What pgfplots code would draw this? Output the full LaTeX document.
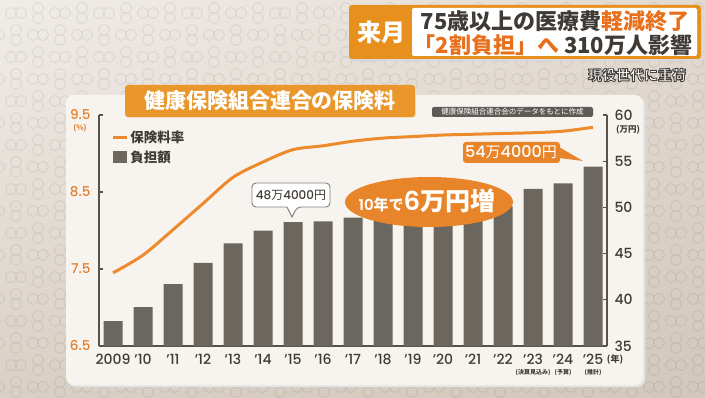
\documentclass[border=0pt]{standalone}
\usepackage{fontspec}
\usepackage{pgfplots}
\pgfplotsset{compat=1.18}
\usetikzlibrary{shadings}
\setmainfont{Noto Sans CJK JP}
\newfontfamily\numfont{Poppins}[UprightFont=*-Medium,BoldFont=*-SemiBold]
\definecolor{bgul}{HTML}{F0ECE8}
\definecolor{bgur}{HTML}{E2DAD1}
\definecolor{bgll}{HTML}{D9D0C5}
\definecolor{bglr}{HTML}{D2C7BB}
\definecolor{panel}{HTML}{F7F4EF}
\definecolor{orng}{HTML}{EC8A2C}
\definecolor{tickor}{HTML}{E2802C}
\definecolor{titleor}{HTML}{E9962A}
\definecolor{ellor}{HTML}{E8852A}
\definecolor{barc}{HTML}{6B665E}
\definecolor{axc}{HTML}{57524C}
\definecolor{txt}{HTML}{3F3A35}
\definecolor{hdror}{HTML}{E8901E}
\definecolor{hdrtxt}{HTML}{E8701C}
\definecolor{srcbox}{HTML}{5F5A55}
\newcommand{\fs}[1]{\fontsize{#1pt}{#1pt}\selectfont}
\begin{document}
\begin{tikzpicture}
\useasboundingbox (0,0) rectangle (705pt,397pt);
\shade[upper left=bgul, upper right=bgur, lower left=bgll, lower right=bglr] (0,0) rectangle (705pt,397pt);
% background ring pattern
\begin{scope}[x=1pt,y=1pt, draw=black, draw opacity=0.07, line width=0.9pt]
\foreach \j in {0,...,17} {
  \pgfmathsetmacro{\yy}{384-22*\j}
  \pgfmathsetmacro{\off}{22*mod(\j,2)}
  \foreach \i in {-1,...,16} {
    \pgfmathsetmacro{\xx}{16+44*\i+\off}
    \draw (\xx-5,\yy) circle [radius=5.5] (\xx+5,\yy) circle [radius=5.5];
    \draw (\xx+22,\yy-5) circle [radius=5.5] (\xx+22,\yy+5) circle [radius=5.5];
  }
}
\end{scope}
% panel
\fill[black!10, rounded corners=8pt] (68pt,10pt) rectangle (645pt,300pt);
\fill[panel, rounded corners=8pt] (66pt,12pt) rectangle (643pt,302pt);

% bars, right axis
\begin{axis}[at={(99pt,51pt)}, anchor=south west, scale only axis,
  width=508pt, height=231pt,
  xmin=-0.4667, xmax=16.4667, ymin=35, ymax=60,
  axis x line*=bottom, axis y line*=right,
  axis line style={-, line width=1.5pt, axc},
  tick align=inside, major tick length=4pt,
  ytick={35,40,45,50,55,60},
  ytick style={line width=1.2pt, axc},
  xtick={0,...,16}, x tick style={draw=none},
  xticklabels={2009,’10,’11,’12,’13,’14,’15,’16,’17,’18,’19,’20,’21,’22,
    {’23\\[-4pt]{\rmfamily\bfseries\fs{6}(決算見込み)}},
    {’24\\[-4pt]{\rmfamily\bfseries\fs{6}(予算)}},
    {’25\\[-4pt]{\rmfamily\bfseries\fs{6}(推計)}}},
  /pgf/number format/assume math mode=true,
  yticklabel style={font=\numfont\fs{14}, text=txt, xshift=4pt},
  xticklabel style={font=\numfont\fs{14}, text=txt, align=center, anchor=north, yshift=-1pt},
  ybar, bar width=19pt, clip=false]
\addplot[fill=barc, draw=none] coordinates {
 (0,37.7) (1,39.2) (2,41.7) (3,44.0) (4,46.1) (5,47.5) (6,48.4) (7,48.5)
 (8,48.9) (9,49.2) (10,49.4) (11,49.6) (12,49.8) (13,50.1) (14,52.0)
 (15,52.6) (16,54.4)};
\end{axis}

% line, left axis
\begin{axis}[at={(99pt,51pt)}, anchor=south west, scale only axis,
  width=508pt, height=231pt,
  xmin=-0.4667, xmax=16.4667, ymin=6.5, ymax=9.5,
  axis x line=none, axis y line*=left,
  axis line style={-, line width=1.5pt, axc},
  tick align=inside, major tick length=4pt,
  ytick={6.5,7.5,8.5,9.5},
  ytick style={line width=1.2pt, axc},
  /pgf/number format/assume math mode=true,
  /pgf/number format/fixed, /pgf/number format/precision=1,
  yticklabel style={font=\numfont\fs{13.5}, text=tickor, xshift=-5pt},
  legend style={at={(0.025,0.94)}, anchor=north west, draw=none, fill=none,
    inner sep=0pt, font=\bfseries\fs{13.5}, text=txt, row sep=4pt,
    nodes={inner sep=1.5pt}},
  legend cell align=left, clip=false]
\addplot[orng, line width=3pt, smooth,
  legend image code/.code={\draw[orng,line width=3pt] (0pt,0pt)--(14pt,0pt);}]
  coordinates {
 (0,7.45) (1,7.68) (2,8.01) (3,8.35) (4,8.69) (5,8.89) (6,9.05) (7,9.10)
 (8,9.16) (9,9.20) (10,9.22) (11,9.24) (12,9.25) (13,9.26) (14,9.27)
 (15,9.29) (16,9.34)};
\addlegendentry{保険料率}
\addlegendimage{legend image code/.code={\fill[barc] (0pt,-5.5pt) rectangle (13pt,5.5pt);}}
\addlegendentry{負担額}
\end{axis}

% axis unit labels
\node[text=tickor, font=\bfseries\fs{7.5}, inner sep=0pt] at (80pt,268.5pt) {(\%)};
\node[text=txt, font=\bfseries\fs{8.5}, inner sep=0pt] at (628pt,267.5pt) {(万円)};
\node[text=txt, font=\bfseries\fs{9}, inner sep=0pt] at (615pt,37pt) {(年)};

% title tag
\fill[white!70!titleor, rounded corners=3pt] (126pt,279pt) rectangle (416pt,311pt);
\fill[titleor, rounded corners=3pt] (125pt,280pt) rectangle (415pt,312pt);
\node[text=white, font=\bfseries\fs{21}] at (270pt,296pt) {健康保険組合連合の保険料};

% source note
\fill[srcbox, rounded corners=2pt] (432pt,280pt) rectangle (593pt,290pt);
\node[text=white, font=\fs{7.5}] at (512.5pt,285pt) {健康保険組合連合会のデータをもとに作成};

% callout 48
\filldraw[fill=white, draw=black!50, line width=0.9pt, rounded corners=4pt]
  (287pt,190pt) -- (252pt,190pt) -- (252pt,214pt) -- (330pt,214pt) -- (330pt,190pt) -- (297pt,190pt)
  [sharp corners] -- (292pt,180pt) -- cycle;
\node[text=txt, font=\fs{12}] at (291pt,202pt) {{\numfont 48}万{\numfont 4000}円};

% callout 54
\fill[ellor, rounded corners=3pt] (463pt,234pt) rectangle (560pt,255pt);
\fill[ellor] (559pt,250pt) -- (583pt,236pt) -- (559pt,239pt) -- cycle;
\node[text=white, font=\fs{15}] at (511pt,244.5pt) {{\numfont\fs{16}54}万{\numfont\fs{16}4000}円};

% ellipse
\fill[ellor] (429pt,195pt) ellipse [x radius=84pt, y radius=25pt];
\node[text=white, font=\bfseries, anchor=center] at (427pt,196pt)
  {{\numfont\fs{15}10}{\fs{15}年で}{\numfont\fs{26}6}{\fs{25}万円増}};

% header
\fill[black!15, rounded corners=3pt] (351pt,336pt) rectangle (703pt,390pt);
\fill[hdror, rounded corners=3pt] (349pt,338pt) rectangle (701pt,392pt);
\fill[white, rounded corners=2pt] (412pt,341pt) rectangle (697pt,389pt);
\node[text=white, font=\bfseries\fs{24}] at (381pt,365pt) {来月};
\node[text=txt, font=\bfseries\fs{22}] at (555pt,376pt) {75歳以上の医療費\textcolor{hdrtxt}{軽減終了}};
\node[text=txt, font=\bfseries\fs{22}] at (553pt,352pt) {\textcolor{hdrtxt}{「2割負担」へ} 310万人影響};

% subtitle: white text with dark outline (text render mode 2)
\node[text=white, font=\bfseries\fs{14}] at (637pt,322pt)
  {\special{pdf:literal direct 2 Tr 0.9 w 0.28 0.26 0.24 RG}現役世代に重荷\special{pdf:literal direct 0 Tr}};
\end{tikzpicture}
\end{document}
